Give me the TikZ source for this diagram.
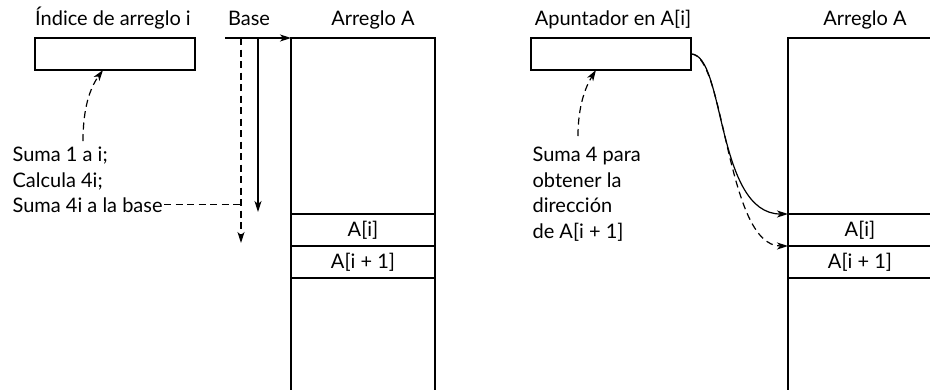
\documentclass[tikz,border=0pt]{standalone}
\usepackage{fontspec}
\setmainfont{Lato}
\usetikzlibrary{arrows.meta,positioning}

\begin{document}
\begin{tikzpicture}[x=1pt,y=-1pt,line width=1.2pt,
  font=\fontsize{20}{26}\selectfont,
  tip/.style={-{Stealth[length=11pt,width=7pt,inset=3pt]}},
  dashline/.style={dash pattern=on 7pt off 4.5pt},
  txt/.style={anchor=base west,inner sep=1pt},
  reg/.style={draw,minimum width=160pt,minimum height=32pt,inner sep=0pt,outer sep=0pt,anchor=north west},
  cell/.style={draw,minimum width=144pt,minimum height=32pt,inner sep=0pt,outer sep=0pt,anchor=north west},
  col/.style={draw,minimum width=144pt,minimum height=380pt,inner sep=0pt,outer sep=0pt,anchor=north west}]
\useasboundingbox (0,0) rectangle (930,389);
\clip (0,0) rectangle (930,389);
% left half: index into the array
\node[anchor=base] (tidx) at (113,25) {Índice de arreglo i};
\node[reg] (idx) at (35,38) {};
\node[anchor=base] (tbase) at (249,25) {Base};
\node[anchor=base] (tarrL) at (373,25) {Arreglo A};
\node[col] (arrL) at (291,38) {};
\node[cell] (aiL) at (291,214) {A[i]};
\node[cell,below=0pt of aiL] (ai1L) {A[i + 1]};
\coordinate (base) at (225,38);
\coordinate (dv) at (241,38);
\coordinate (sv) at (258,38);
\draw[tip] (base) -- (arrL.north west);
\draw[tip] (sv) -- ++(0,174);
\draw[tip,dashline] (dv) -- ++(0,205);
\node[txt] (s1) at (11,161) {Suma 1 a i;};
\node[txt] (s2) at (11,187) {Calcula 4i;};
\node[txt] (s3) at (11,212) {Suma 4i a la base};
\draw[dashline] (s3.east) -- (s3.east -| dv);
\coordinate (cl) at (83,141);
\draw[tip,dashline] (cl) .. controls (83,108) and (90,88) .. ([xshift=-12pt]idx.south);
% right half: pointer into the array
\node[anchor=base] (tptr) at (613,25) {Apuntador en A[i]};
\node[reg] (ptr) at (531,38) {};
\node[anchor=base] (tarrR) at (865,25) {Arreglo A};
\node[col] (arrR) at (788,38) {};
\node[cell] (aiR) at (788,214) {A[i]};
\node[cell,below=0pt of aiR] (ai1R) {A[i + 1]};
\node[txt] (r1) at (531,161) {Suma 4 para};
\node[txt] (r2) at (531,187) {obtener la};
\node[txt] (r3) at (531,212) {dirección};
\node[txt] (r4) at (531,238) {de A[i + 1]};
\coordinate (cr) at (578,136);
\draw[tip,dashline] (cr) .. controls (578,105) and (586,86) .. ([xshift=-15pt]ptr.south);
\draw[tip] (ptr.east) .. controls +(34,0) and (716,214) .. (aiR.north west);
\draw[tip,dashline] (ptr.east) .. controls +(34,0) and (726,246) .. (ai1R.north west);
\end{tikzpicture}
\end{document}
